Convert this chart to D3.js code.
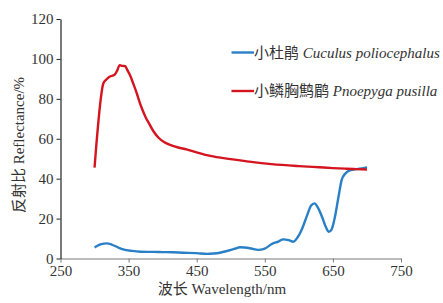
<!DOCTYPE html>
<html>
<head>
<meta charset="utf-8">
<script src="https://cdn.jsdelivr.net/npm/d3@7"></script>
<style>
body { margin: 0; background: #fff; }
svg text { font-family: "Liberation Serif", "DejaVu Serif", "Noto Sans CJK SC", serif !important; }
</style>
</head>
<body>
<div id="chart"></div>
<script>
// wavelength (nm) and reflectance (%)
var cuculusWl = [300, 305, 310, 318, 325, 335, 342, 355, 367, 385, 400, 415, 430, 450, 465, 475, 484, 495, 505, 514, 520, 530, 540, 550, 562, 570, 577, 585, 592, 598, 604, 612, 618, 623, 628, 634, 640, 644, 648, 653, 658, 663, 668, 675, 685, 695, 700];
var cuculusR  = [5.5, 6.5, 7.2, 7.6, 7.0, 5.5, 4.6, 3.8, 3.4, 3.3, 3.2, 3.1, 2.9, 2.7, 2.3, 2.5, 2.9, 3.8, 4.8, 5.6, 5.5, 5.0, 4.3, 5.0, 7.6, 8.5, 9.6, 9.2, 8.4, 10.5, 14.3, 21.5, 26.5, 27.6, 25.5, 20.9, 15.5, 13.4, 14.5, 20.9, 30.5, 39.5, 42.5, 44.2, 44.8, 45.2, 45.8];

var pnoepygaWl = [300, 313, 317, 322, 329, 333, 337, 341, 345, 348, 352, 357, 362, 366, 370, 375, 380, 387, 394, 402, 411, 423, 435, 450, 470, 500, 530, 560, 600, 630, 650, 670, 685, 700];
var pnoepygaR  = [45.5, 87.8, 89.6, 91.1, 91.9, 94, 96.9, 96.5, 96.4, 94.5, 91.9, 87.5, 82.8, 78.5, 74.8, 70.8, 67.7, 63.5, 60.5, 58.4, 56.9, 55.6, 54.7, 53.2, 51.4, 49.8, 48.4, 47.3, 46.3, 45.7, 45.3, 45.0, 44.8, 44.6];

var xTicks = [250, 350, 450, 550, 650, 750];
var yTicks = [0, 20, 40, 60, 80, 100, 120];

var series = [
  {name: "小杜鹃 ", latin: "Cuculus poliocephalus", color: "#2a80c6", wl: cuculusWl, r: cuculusR},
  {name: "小鳞胸鹪鹛 ", latin: "Pnoepyga pusilla", color: "#d4151f", wl: pnoepygaWl, r: pnoepygaR}
];

var w = 443, h = 303;

var svg = d3.select("#chart")
  .append("svg")
  .attr("width", w)
  .attr("height", h);

var xScale = d3.scaleLinear().domain([250, 750]).range([60.5, 401]);
var yScale = d3.scaleLinear().domain([0, 120]).range([258.5, 19]);

//X axis
var xAxis = svg.append("g")
  .attr("transform", "translate(0,258.5)")
  .call(d3.axisBottom(xScale).tickValues(xTicks).tickSize(4).tickSizeOuter(0).tickPadding(3));
xAxis.select(".domain").attr("stroke", "#7a7a7a").attr("stroke-width", 1.2);
xAxis.selectAll(".tick line").attr("stroke", "#7a7a7a");
xAxis.selectAll("text").attr("fill", "#333").style("font-size", "15px");

//Y axis
var yAxis = svg.append("g")
  .attr("transform", "translate(60.5,0)")
  .call(d3.axisLeft(yScale).tickValues(yTicks).tickSize(4).tickSizeOuter(0).tickPadding(3));
yAxis.select(".domain").attr("stroke", "#222").attr("stroke-width", 1.2);
yAxis.selectAll(".tick line").attr("stroke", "#222");
yAxis.selectAll("text").attr("fill", "#333").style("font-size", "15px");

// axis labels
svg.append("text")
  .attr("text-anchor", "middle")
  .attr("x", 222)
  .attr("y", 294)
  .attr("fill", "#333")
  .style("font-size", "15px")
  .text("波长 Wavelength/nm");

svg.append("text")
  .attr("text-anchor", "middle")
  .attr("transform", "translate(24,145) rotate(-90)")
  .attr("fill", "#333")
  .style("font-size", "15px")
  .text("反射比 Reflectance/%");

// curves
var line = d3.line()
  .x(function(d) { return xScale(d[0]); })
  .y(function(d) { return yScale(d[1]); })
  .curve(d3.curveMonotoneX);

series.forEach(function(s) {
  svg.append("path")
    .datum(d3.zip(s.wl, s.r))
    .attr("fill", "none")
    .attr("stroke", s.color)
    .attr("stroke-width", 2.4)
    .attr("stroke-linejoin", "round")
    .attr("d", line);
});

// legend
var legend = svg.append("g");
series.forEach(function(s, i) {
  var ly = 52.5 + i * 38.5;
  legend.append("line")
    .attr("x1", 231.5).attr("x2", 254)
    .attr("y1", ly).attr("y2", ly)
    .attr("stroke", s.color)
    .attr("stroke-width", 2.4);
  var t = legend.append("text")
    .attr("x", 254)
    .attr("y", ly + 5)
    .attr("fill", "#333")
    .style("font-size", "15px");
  t.append("tspan").text(s.name);
  t.append("tspan").style("font-style", "italic").text(s.latin);
});
</script>
</body>
</html>
